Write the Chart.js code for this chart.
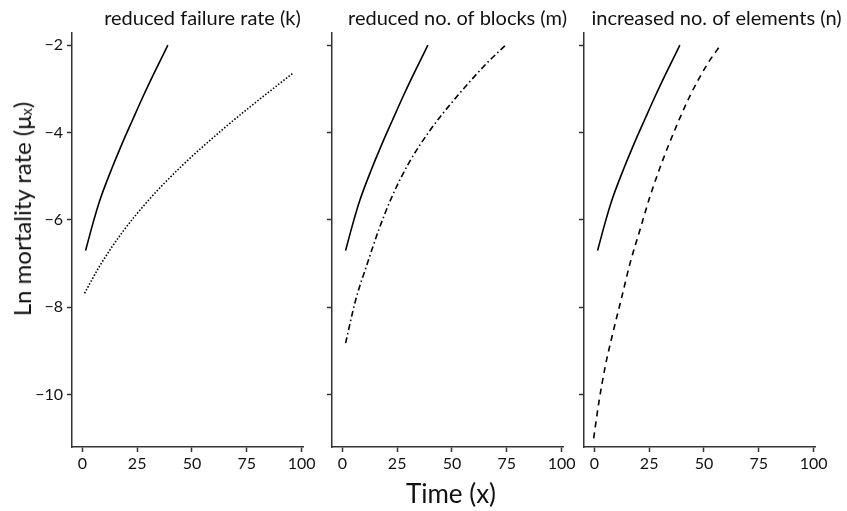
<!DOCTYPE html>
<html>
<head>
<meta charset="utf-8">
<script src="https://cdn.jsdelivr.net/npm/chart.js@4.4.1/dist/chart.umd.min.js"></script>
<style>
  html, body { margin: 0; padding: 0; background: #fff; }
  #wrap { position: relative; width: 847px; height: 511px; font-family: Lato, sans-serif; color: #111; }
  .panel { position: absolute; top: 0; height: 511px; }
  .axis-title { position: absolute; white-space: nowrap; line-height: 26px; }
  #xTitle { left: 451px; top: 480px; font-size: 26px; transform: translateX(-50%); }
  #yTitle { left: 24px; top: 209px; font-size: 24px; transform: translate(-50%, -50%) rotate(-90deg); }
  #yTitle sub { font-size: 60%; vertical-align: baseline; position: relative; top: 0.1em; }
</style>
</head>
<body>
<div id="wrap">
  <div class="panel" id="p1"><canvas id="c1"></canvas></div>
  <div class="panel" id="p2"><canvas id="c2"></canvas></div>
  <div class="panel" id="p3"><canvas id="c3"></canvas></div>
  <div class="axis-title" id="xTitle">Time (x)</div>
  <div class="axis-title" id="yTitle">Ln mortality rate (μ<sub>x</sub>)</div>
</div>
<script>
const xTicks = [0, 25, 50, 75, 100];
const yTicks = [-10, -8, -6, -4, -2];
const panelTitles = ["reduced failure rate (k)", "reduced no. of blocks (m)", "increased no. of elements (n)"];

// reference curve, drawn solid in every panel
const baseX = [1.5, 5, 8, 13, 18, 23, 28, 33, 39];
const baseY = [-6.7, -6.05, -5.55, -4.88, -4.27, -3.70, -3.14, -2.61, -2.0];

// reduced failure rate (dotted)
const kX = [1, 8, 18, 30, 45, 63, 76.5, 96];
const kY = [-7.68, -7.05, -6.30, -5.56, -4.78, -3.97, -3.41, -2.64];

// reduced no. of blocks (dot-dash)
const mX = [1.5, 6, 11.4, 16.6, 22.7, 30.3, 40.1, 52.3, 65.9, 74.2];
const mY = [-8.82, -7.85, -7.0, -6.23, -5.46, -4.70, -3.94, -3.17, -2.41, -2.01];

// increased no. of elements (dashed)
const nX = [-0.3, 2, 5, 8.8, 12.6, 16.3, 20.8, 25.4, 30.7, 36.7, 43.5, 51.8, 57.1];
const nY = [-11.0, -10.2, -9.35, -8.52, -7.75, -6.99, -6.23, -5.46, -4.70, -3.94, -3.17, -2.41, -2.03];

const X_MIN = -4.7, X_MAX = 100.6;
const Y_MIN = -11.2, Y_MAX = -1.72;
const AXIS_COLOR = "#333";
const TEXT_COLOR = "#111";

function toPoints(xs, ys) {
  return xs.map((x, i) => ({ x, y: ys[i] }));
}

const facetTitle = {
  id: "facetTitle",
  afterDraw(chart, args, opts) {
    const { ctx, chartArea } = chart;
    ctx.save();
    ctx.font = "20px Lato";
    ctx.fillStyle = TEXT_COLOR;
    ctx.textAlign = "center";
    ctx.textBaseline = "alphabetic";
    ctx.fillText(opts.text, (chartArea.left + chartArea.right) / 2 + opts.shift, 25);
    ctx.restore();
  },
};

const panels = [
  { id: "c1", box: "p1", panelLeft: 72, yWidth: 72, rightPad: 16, labels: true, shift: 15,
    title: panelTitles[0], xs: kX, ys: kY, dash: [1.5, 1.8] },
  { id: "c2", box: "p2", panelLeft: 332, yWidth: 10, rightPad: 16, labels: false, shift: 10,
    title: panelTitles[1], xs: mX, ys: mY, dash: [6, 3, 1.5, 3] },
  { id: "c3", box: "p3", panelLeft: 584, yWidth: 10, rightPad: 32, labels: false, shift: 17,
    title: panelTitles[2], xs: nX, ys: nY, dash: [6, 5] },
];

const PANEL_WIDTH = 231;

panels.forEach((p) => {
  const box = document.getElementById(p.box);
  const canvas = document.getElementById(p.id);
  const width = p.yWidth + PANEL_WIDTH + p.rightPad;
  box.style.left = `${p.panelLeft - p.yWidth}px`;
  box.style.width = `${width}px`;
  canvas.width = width;
  canvas.height = 511;

  new Chart(canvas, {
    type: "scatter",
    data: {
      datasets: [
        {
          data: toPoints(baseX, baseY),
          showLine: true,
          borderColor: "#000",
          borderWidth: 1.6,
          pointRadius: 0,
          cubicInterpolationMode: "monotone",
        },
        {
          data: toPoints(p.xs, p.ys),
          showLine: true,
          borderColor: "#000",
          borderWidth: 1.6,
          borderDash: p.dash,
          pointRadius: 0,
          cubicInterpolationMode: "monotone",
        },
      ],
    },
    options: {
      responsive: false,
      animation: false,
      layout: { padding: { top: 33, left: 0, right: p.rightPad, bottom: 0 } },
      plugins: {
        legend: { display: false },
        tooltip: { enabled: false },
        facetTitle: { text: p.title, shift: p.shift },
      },
      scales: {
        x: {
          type: "linear",
          min: X_MIN,
          max: X_MAX,
          afterBuildTicks: (axis) => { axis.ticks = xTicks.map((v) => ({ value: v })); },
          afterFit: (axis) => { axis.height = 64; },
          grid: { drawOnChartArea: false, tickLength: 5, tickColor: AXIS_COLOR, tickWidth: 1.5 },
          border: { color: AXIS_COLOR, width: 1.5 },
          ticks: { color: TEXT_COLOR, font: { family: "Lato", size: 16 }, padding: 2, maxRotation: 0, autoSkip: false },
        },
        y: {
          type: "linear",
          min: Y_MIN,
          max: Y_MAX,
          afterBuildTicks: (axis) => { axis.ticks = yTicks.map((v) => ({ value: v })); },
          afterFit: (axis) => { axis.width = p.yWidth; },
          grid: { drawOnChartArea: false, tickLength: 5, tickColor: AXIS_COLOR, tickWidth: 1.5 },
          border: { color: AXIS_COLOR, width: 1.5 },
          ticks: {
            display: p.labels,
            color: TEXT_COLOR,
            font: { family: "Lato", size: 16 },
            padding: 4,
            callback: (value) => String(value).replace("-", "\u2212"),
          },
        },
      },
    },
    plugins: [facetTitle],
  });
});
</script>
</body>
</html>
